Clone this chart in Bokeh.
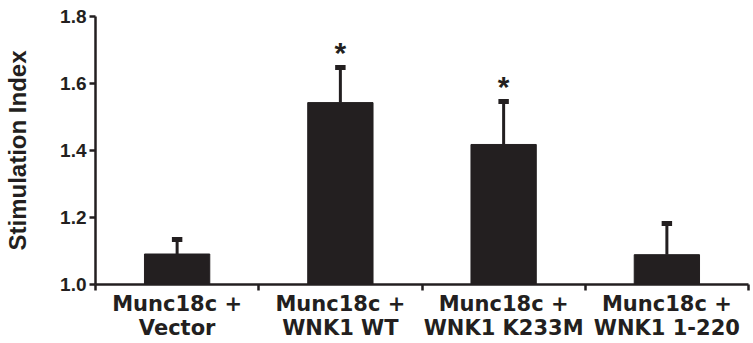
from bokeh.plotting import figure
from bokeh.models import FixedTicker, Range1d, ColumnDataSource, NumeralTickFormatter
from bokeh.core.properties import value
from bokeh.embed import file_html
from bokeh.resources import INLINE

categories = ["Munc18c +\nVector", "Munc18c +\nWNK1 WT", "Munc18c +\nWNK1 K233M", "Munc18c +\nWNK1 1-220"]
means = [1.091, 1.543, 1.418, 1.089]
errors = [0.043, 0.105, 0.128, 0.093]
marks = ["", "*", "*", ""]
yticks = [1.0, 1.2, 1.4, 1.6, 1.8]

INK = "#231f20"

xc = [i + 0.5 for i in range(len(categories))]
bounds = [float(i) for i in range(len(categories) + 1)]
upper = [m + e for m, e in zip(means, errors)]

src = ColumnDataSource(dict(
    x=xc, mean=means, upper=upper, mark=marks,
    cl=[x - 0.032 for x in xc], cr=[x + 0.032 for x in xc],
))

p = figure(width=753, height=343, x_range=Range1d(0, len(categories)),
           y_range=Range1d(1.0, 1.8), output_backend="svg", toolbar_location=None,
           min_border_left=95, min_border_right=5, min_border_top=16, min_border_bottom=40)
p.outline_line_color = None
p.xgrid.grid_line_color = None
p.ygrid.grid_line_color = None
p.background_fill_color = "white"
p.border_fill_color = "white"

p.vbar(x="x", top="mean", bottom=1.0, width=0.4, source=src,
       fill_color=INK, line_color=INK, line_width=1)
p.segment(x0="x", y0="mean", x1="x", y1="upper", source=src,
          line_color=INK, line_width=3)
p.segment(x0="cl", y0="upper", x1="cr", y1="upper", source=src,
          line_color=INK, line_width=5)
p.text(x="x", y="upper", text="mark", source=src, text_align="center",
       text_baseline="alphabetic", y_offset=-15, text_font=value("Liberation Sans"),
       text_font_style="bold", text_font_size="30px", text_color=INK)

# x axis
xa = p.xaxis[0]
xa.ticker = FixedTicker(ticks=xc, minor_ticks=bounds)
xa.major_label_overrides = {x: c for x, c in zip(xc, categories)}
xa.major_tick_out = 0
xa.major_tick_in = 0
xa.minor_tick_out = 6
xa.minor_tick_in = 0
xa.minor_tick_line_width = 2.5
xa.minor_tick_line_color = INK
xa.axis_line_width = 2.5
xa.axis_line_color = INK
xa.major_label_standoff = 1
xa.major_label_text_font = "DejaVu Sans"
xa.major_label_text_font_style = "bold"
xa.major_label_text_font_size = "21px"
xa.major_label_text_color = INK
xa.major_label_text_line_height = 1.04

# y axis
ya = p.yaxis[0]
ya.ticker = FixedTicker(ticks=yticks)
ya.formatter = NumeralTickFormatter(format="0.0")
ya.major_tick_out = 6
ya.major_tick_in = 0
ya.minor_tick_out = 0
ya.minor_tick_in = 0
ya.major_tick_line_width = 2.5
ya.major_tick_line_color = INK
ya.axis_line_width = 2.5
ya.axis_line_color = INK
ya.major_label_standoff = 3
ya.major_label_text_font = "Liberation Sans"
ya.major_label_text_font_style = "bold"
ya.major_label_text_font_size = "19px"
ya.major_label_text_color = INK
ya.axis_label = "Stimulation Index"
ya.axis_label_text_font = "Liberation Sans"
ya.axis_label_text_font_style = "bold"
ya.axis_label_text_font_size = "24px"
ya.axis_label_text_color = INK
ya.axis_label_standoff = 26

open("out.html", "w").write(file_html(p, INLINE))
